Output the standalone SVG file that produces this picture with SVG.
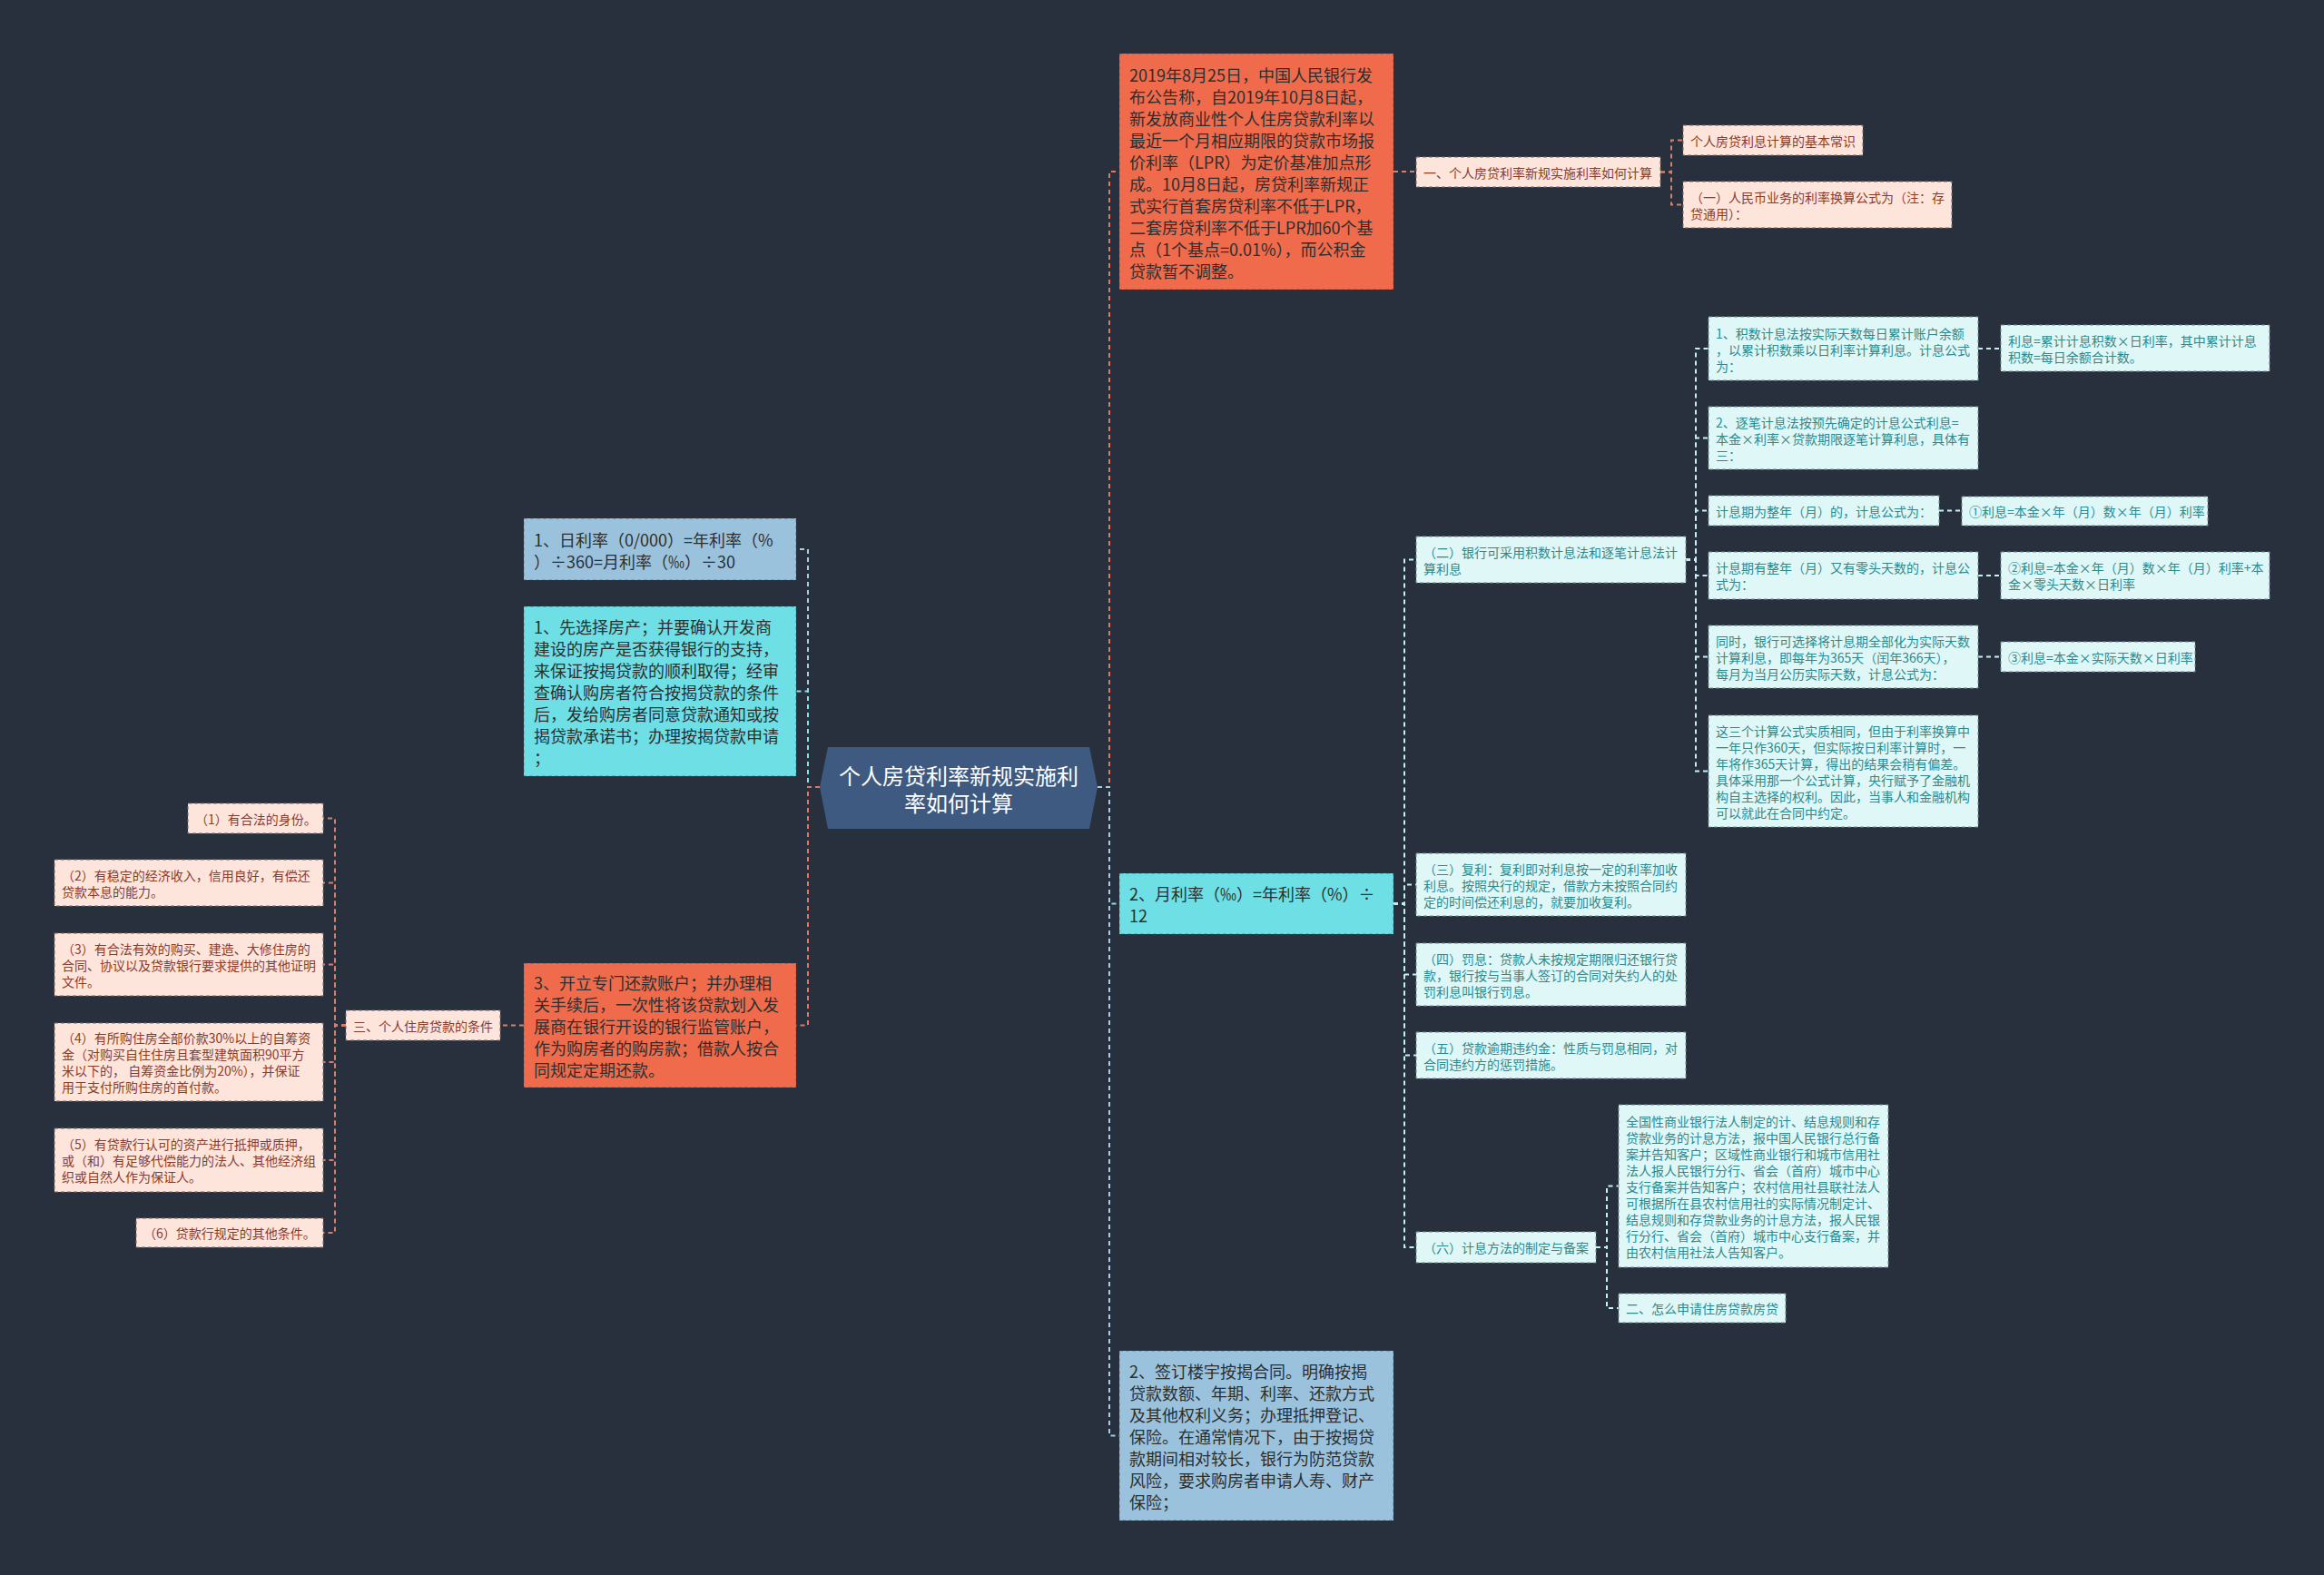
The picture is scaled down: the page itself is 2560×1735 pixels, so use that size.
<svg xmlns="http://www.w3.org/2000/svg" width="2560" height="1735" viewBox="0 0 2560 1735">
<style>
text{font-family:"Noto Sans CJK SC","Noto Sans",sans-serif;dominant-baseline:central}
.L{font-size:18px;fill:#2e2e2e}
.S{font-size:14px}
.pk rect{fill:#fde5dc;stroke:#7a6a66;stroke-width:1;stroke-dasharray:4 3}
.pk text{fill:#8a3b2c}
.cy rect{fill:#e0f7f7;stroke:#6f8f90;stroke-width:1;stroke-dasharray:4 3}
.cy text{fill:#2b8a8e}
.big rect{stroke:#3a3a3a;stroke-opacity:.45;stroke-width:1;stroke-dasharray:4 3}
.or rect{fill:#ef6b4c}
.cb rect{fill:#6ddfe5}
.lb rect{fill:#9ac2dc}
.c path{fill:none;stroke-width:2;stroke-dasharray:5 4}
.co{stroke:#e07860}
.cc{stroke:#7fe3e8}
.cl{stroke:#a9cde3}
.cp{stroke:#d3806c}
.cw{stroke:#c4f1f3}
</style>
<rect width="2560" height="1735" fill="#28303e"/>

<g id="connectors" class="c">
<path class="co" d="M1209 867H1222V189H1233"/>
<path class="cc" d="M1209 867H1222V995.5H1233"/>
<path class="cl" d="M1209 867H1222V1581.5H1233"/>
<path class="cp" d="M1535 189H1560"/>
<path class="cp" d="M1829 189.5H1841V154.5H1854"/>
<path class="cp" d="M1829 189.5H1841V225.5H1854"/>
<path class="cw" d="M1535 995.5H1547V616.5H1560"/>
<path class="cw" d="M1535 995.5H1547V974.5H1560"/>
<path class="cw" d="M1535 995.5H1547V1073.5H1560"/>
<path class="cw" d="M1535 995.5H1547V1162.5H1560"/>
<path class="cw" d="M1535 995.5H1547V1374H1560"/>
<path class="cw" d="M1857 616.5H1868V384H1882"/>
<path class="cw" d="M1857 616.5H1868V482.5H1882"/>
<path class="cw" d="M1857 616.5H1868V562.5H1882"/>
<path class="cw" d="M1857 616.5H1868V634H1882"/>
<path class="cw" d="M1857 616.5H1868V723.5H1882"/>
<path class="cw" d="M1857 616.5H1868V849.5H1882"/>
<path class="cw" d="M2179 384H2204"/>
<path class="cw" d="M2136 562.5H2161"/>
<path class="cw" d="M2179 634H2204"/>
<path class="cw" d="M2179 723.5H2204"/>
<path class="cw" d="M1758 1374H1770V1306.5H1783"/>
<path class="cw" d="M1758 1374H1770V1441H1783"/>
<path class="cl" d="M903 867H890V605H877"/>
<path class="cc" d="M903 867H890V761.5H877"/>
<path class="co" d="M903 867H890V1129.5H877"/>
<path class="cp" d="M577 1129.5H551"/>
<path class="cp" d="M381 1129.5H369V901.5H356"/>
<path class="cp" d="M381 1129.5H369V972.5H356"/>
<path class="cp" d="M381 1129.5H369V1062.5H356"/>
<path class="cp" d="M381 1129.5H369V1170H356"/>
<path class="cp" d="M381 1129.5H369V1278H356"/>
<path class="cp" d="M381 1129.5H369V1358H356"/>
</g>

<g id="root">
<polygon points="903,867 912,823 1200,823 1209,867 1200,913 912,913" fill="#3e5a80"/>
<text x="1056" font-size="24" fill="#ffffff" text-anchor="middle"><tspan x="1056" y="853">个人房贷利率新规实施利</tspan><tspan x="1056" y="883">率如何计算</tspan></text>
</g>

<g id="n-lpr" class="big or">
<rect x="1233" y="59" width="302" height="260"/>
<text class="L" fill="#3a2520"><tspan x="1244" y="82">2019年8月25日，中国人民银行发</tspan><tspan x="1244" y="106">布公告称，自2019年10月8日起，</tspan><tspan x="1244" y="130">新发放商业性个人住房贷款利率以</tspan><tspan x="1244" y="154">最近一个月相应期限的贷款市场报</tspan><tspan x="1244" y="178">价利率（LPR）为定价基准加点形</tspan><tspan x="1244" y="202">成。10月8日起，房贷利率新规正</tspan><tspan x="1244" y="226">式实行首套房贷利率不低于LPR，</tspan><tspan x="1244" y="250">二套房贷利率不低于LPR加60个基</tspan><tspan x="1244" y="274">点（1个基点=0.01%），而公积金</tspan><tspan x="1244" y="298">贷款暂不调整。</tspan></text>
</g>

<g id="n-one" class="pk">
<rect x="1560" y="173" width="269" height="33"/>
<text class="S"><tspan x="1568" y="190">一、个人房贷利率新规实施利率如何计算</tspan></text>
</g>
<g id="n-basic" class="pk">
<rect x="1854" y="138" width="198" height="33"/>
<text class="S"><tspan x="1862" y="155">个人房贷利息计算的基本常识</tspan></text>
</g>
<g id="n-formula" class="pk">
<rect x="1854" y="200" width="296" height="51"/>
<text class="S"><tspan x="1862" y="217">（一）人民币业务的利率换算公式为（注：存</tspan><tspan x="1862" y="235">贷通用）：</tspan></text>
</g>

<g id="n-month" class="big cb">
<rect x="1233" y="962" width="302" height="67"/>
<text class="L"><tspan x="1244" y="984">2、月利率（‰）=年利率（%）÷</tspan><tspan x="1244" y="1008">12</tspan></text>
</g>

<g id="n-two" class="cy">
<rect x="1560" y="591" width="297" height="51"/>
<text class="S"><tspan x="1568" y="608">（二）银行可采用积数计息法和逐笔计息法计</tspan><tspan x="1568" y="626">算利息</tspan></text>
</g>
<g id="n-jishu" class="cy">
<rect x="1882" y="349" width="297" height="70"/>
<text class="S"><tspan x="1890" y="367">1、积数计息法按实际天数每日累计账户余额</tspan><tspan x="1890" y="385">，以累计积数乘以日利率计算利息。计息公式</tspan><tspan x="1890" y="403">为：</tspan></text>
</g>
<g id="n-jishu-f" class="cy">
<rect x="2204" y="358" width="296" height="51"/>
<text class="S"><tspan x="2212" y="375">利息=累计计息积数×日利率，其中累计计息</tspan><tspan x="2212" y="393">积数=每日余额合计数。</tspan></text>
</g>
<g id="n-zhubi" class="cy">
<rect x="1882" y="448" width="297" height="69"/>
<text class="S"><tspan x="1890" y="465">2、逐笔计息法按预先确定的计息公式利息=</tspan><tspan x="1890" y="483">本金×利率×贷款期限逐笔计算利息，具体有</tspan><tspan x="1890" y="501">三：</tspan></text>
</g>
<g id="n-zheng" class="cy">
<rect x="1882" y="546" width="254" height="33"/>
<text class="S"><tspan x="1890" y="563">计息期为整年（月）的，计息公式为：</tspan></text>
</g>
<g id="n-f1" class="cy">
<rect x="2161" y="547" width="271" height="32"/>
<text class="S"><tspan x="2169" y="563">①利息=本金×年（月）数×年（月）利率</tspan></text>
</g>
<g id="n-lingtou" class="cy">
<rect x="1882" y="608" width="297" height="52"/>
<text class="S"><tspan x="1890" y="625">计息期有整年（月）又有零头天数的，计息公</tspan><tspan x="1890" y="643">式为：</tspan></text>
</g>
<g id="n-f2" class="cy">
<rect x="2204" y="608" width="296" height="52"/>
<text class="S"><tspan x="2212" y="625">②利息=本金×年（月）数×年（月）利率+本</tspan><tspan x="2212" y="643">金×零头天数×日利率</tspan></text>
</g>
<g id="n-tongshi" class="cy">
<rect x="1882" y="689" width="297" height="69"/>
<text class="S"><tspan x="1890" y="706">同时，银行可选择将计息期全部化为实际天数</tspan><tspan x="1890" y="724">计算利息，即每年为365天（闰年366天），</tspan><tspan x="1890" y="742">每月为当月公历实际天数，计息公式为：</tspan></text>
</g>
<g id="n-f3" class="cy">
<rect x="2204" y="707" width="214" height="33"/>
<text class="S"><tspan x="2212" y="724">③利息=本金×实际天数×日利率</tspan></text>
</g>
<g id="n-zhesan" class="cy">
<rect x="1882" y="788" width="297" height="123"/>
<text class="S"><tspan x="1890" y="805">这三个计算公式实质相同，但由于利率换算中</tspan><tspan x="1890" y="823">一年只作360天，但实际按日利率计算时，一</tspan><tspan x="1890" y="841">年将作365天计算，得出的结果会稍有偏差。</tspan><tspan x="1890" y="859">具体采用那一个公式计算，央行赋予了金融机</tspan><tspan x="1890" y="877">构自主选择的权利。因此，当事人和金融机构</tspan><tspan x="1890" y="895">可以就此在合同中约定。</tspan></text>
</g>
<g id="n-three" class="cy">
<rect x="1560" y="940" width="297" height="69"/>
<text class="S"><tspan x="1568" y="957">（三）复利：复利即对利息按一定的利率加收</tspan><tspan x="1568" y="975">利息。按照央行的规定，借款方未按照合同约</tspan><tspan x="1568" y="993">定的时间偿还利息的，就要加收复利。</tspan></text>
</g>
<g id="n-four" class="cy">
<rect x="1560" y="1039" width="297" height="69"/>
<text class="S"><tspan x="1568" y="1056">（四）罚息：贷款人未按规定期限归还银行贷</tspan><tspan x="1568" y="1074">款，银行按与当事人签订的合同对失约人的处</tspan><tspan x="1568" y="1092">罚利息叫银行罚息。</tspan></text>
</g>
<g id="n-five" class="cy">
<rect x="1560" y="1137" width="297" height="51"/>
<text class="S"><tspan x="1568" y="1154">（五）贷款逾期违约金：性质与罚息相同，对</tspan><tspan x="1568" y="1172">合同违约方的惩罚措施。</tspan></text>
</g>
<g id="n-six" class="cy">
<rect x="1560" y="1357" width="198" height="34"/>
<text class="S"><tspan x="1568" y="1374">（六）计息方法的制定与备案</tspan></text>
</g>
<g id="n-quanguo" class="cy">
<rect x="1783" y="1217" width="297" height="179"/>
<text class="S"><tspan x="1791" y="1235">全国性商业银行法人制定的计、结息规则和存</tspan><tspan x="1791" y="1253">贷款业务的计息方法，报中国人民银行总行备</tspan><tspan x="1791" y="1271">案并告知客户；区域性商业银行和城市信用社</tspan><tspan x="1791" y="1289">法人报人民银行分行、省会（首府）城市中心</tspan><tspan x="1791" y="1307">支行备案并告知客户；农村信用社县联社法人</tspan><tspan x="1791" y="1325">可根据所在县农村信用社的实际情况制定计、</tspan><tspan x="1791" y="1343">结息规则和存贷款业务的计息方法，报人民银</tspan><tspan x="1791" y="1361">行分行、省会（首府）城市中心支行备案，并</tspan><tspan x="1791" y="1379">由农村信用社法人告知客户。</tspan></text>
</g>
<g id="n-apply" class="cy">
<rect x="1783" y="1425" width="184" height="32"/>
<text class="S"><tspan x="1791" y="1441">二、怎么申请住房贷款房贷</tspan></text>
</g>

<g id="n-sign" class="big lb">
<rect x="1233" y="1488" width="302" height="187"/>
<text class="L"><tspan x="1244" y="1510">2、签订楼宇按揭合同。明确按揭</tspan><tspan x="1244" y="1534">贷款数额、年期、利率、还款方式</tspan><tspan x="1244" y="1558">及其他权利义务；办理抵押登记、</tspan><tspan x="1244" y="1582">保险。在通常情况下，由于按揭贷</tspan><tspan x="1244" y="1606">款期间相对较长，银行为防范贷款</tspan><tspan x="1244" y="1630">风险，要求购房者申请人寿、财产</tspan><tspan x="1244" y="1654">保险；</tspan></text>
</g>

<g id="n-day" class="big lb">
<rect x="577" y="571" width="300" height="68"/>
<text class="L"><tspan x="588" y="594">1、日利率（0/000）=年利率（%</tspan><tspan x="588" y="618">）÷360=月利率（‰）÷30</tspan></text>
</g>
<g id="n-choose" class="big cb">
<rect x="577" y="668" width="300" height="187"/>
<text class="L"><tspan x="588" y="690">1、先选择房产；并要确认开发商</tspan><tspan x="588" y="714">建设的房产是否获得银行的支持，</tspan><tspan x="588" y="738">来保证按揭贷款的顺利取得；经审</tspan><tspan x="588" y="762">查确认购房者符合按揭贷款的条件</tspan><tspan x="588" y="786">后，发给购房者同意贷款通知或按</tspan><tspan x="588" y="810">揭贷款承诺书；办理按揭贷款申请</tspan><tspan x="588" y="834">；</tspan></text>
</g>
<g id="n-account" class="big or">
<rect x="577" y="1061" width="300" height="137"/>
<text class="L" fill="#3a2520"><tspan x="588" y="1082">3、开立专门还款账户；并办理相</tspan><tspan x="588" y="1106">关手续后，一次性将该贷款划入发</tspan><tspan x="588" y="1130">展商在银行开设的银行监管账户，</tspan><tspan x="588" y="1154">作为购房者的购房款；借款人按合</tspan><tspan x="588" y="1178">同规定定期还款。</tspan></text>
</g>

<g id="n-cond" class="pk">
<rect x="381" y="1113" width="170" height="33"/>
<text class="S"><tspan x="389" y="1130">三、个人住房贷款的条件</tspan></text>
</g>
<g id="n-c1" class="pk">
<rect x="207" y="885" width="149" height="33"/>
<text class="S"><tspan x="215" y="902">（1）有合法的身份。</tspan></text>
</g>
<g id="n-c2" class="pk">
<rect x="60" y="947" width="296" height="51"/>
<text class="S"><tspan x="68" y="964">（2）有稳定的经济收入，信用良好，有偿还</tspan><tspan x="68" y="982">贷款本息的能力。</tspan></text>
</g>
<g id="n-c3" class="pk">
<rect x="60" y="1028" width="296" height="69"/>
<text class="S"><tspan x="68" y="1045">（3）有合法有效的购买、建造、大修住房的</tspan><tspan x="68" y="1063">合同、协议以及贷款银行要求提供的其他证明</tspan><tspan x="68" y="1081">文件。</tspan></text>
</g>
<g id="n-c4" class="pk">
<rect x="60" y="1127" width="296" height="86"/>
<text class="S"><tspan x="68" y="1143">（4）有所购住房全部价款30%以上的自筹资</tspan><tspan x="68" y="1161">金（对购买自住住房且套型建筑面积90平方</tspan><tspan x="68" y="1179">米以下的， 自筹资金比例为20%），并保证</tspan><tspan x="68" y="1197">用于支付所购住房的首付款。</tspan></text>
</g>
<g id="n-c5" class="pk">
<rect x="60" y="1243" width="296" height="70"/>
<text class="S"><tspan x="68" y="1260">（5）有贷款行认可的资产进行抵押或质押，</tspan><tspan x="68" y="1278">或（和）有足够代偿能力的法人、其他经济组</tspan><tspan x="68" y="1296">织或自然人作为保证人。</tspan></text>
</g>
<g id="n-c6" class="pk">
<rect x="150" y="1342" width="206" height="32"/>
<text class="S"><tspan x="158" y="1358">（6）贷款行规定的其他条件。</tspan></text>
</g>
</svg>
